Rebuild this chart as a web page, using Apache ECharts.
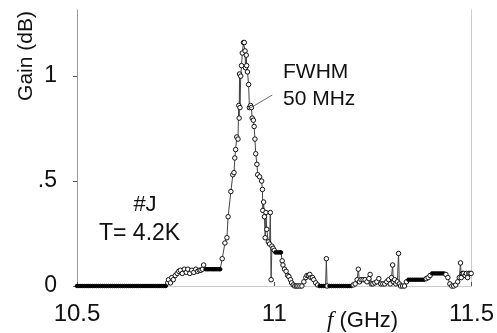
<!DOCTYPE html>
<html>
<head>
<meta charset="utf-8">
<script src="https://cdn.jsdelivr.net/npm/echarts@6/dist/echarts.min.js"></script>
<style>html,body{margin:0;padding:0;background:#fff}#c{width:497px;height:333px}</style>
</head>
<body>
<div id="c"></div>
<script>
// Frequency (GHz) and gain (dB)
const freqLow = [10.500,10.505,10.510,10.515,10.520,10.525,10.530,10.535,10.540,10.545,
  10.550,10.555,10.560,10.565,10.570,10.575,10.580,10.585,10.590,10.595,
  10.600,10.605,10.610,10.615,10.620,10.625,10.630,10.635,10.640,10.645,
  10.650,10.655,10.660,10.665,10.670,10.675,10.680,10.685,10.690,10.695,
  10.700,10.705,10.710,10.715,10.720,10.725];
const gainLow = [0,0,0,0,0,0,0,0,0,0, 0,0,0,0,0,0,0,0,0,0, 0,0,0,0,0,0,0,0,0,0,
  0,0,0,0,0,0,0,0,0,0, 0,0,0,0,0,0];

const freqRise = [10.730,10.732,10.737,10.740,10.744,10.749,10.754,10.758,10.762,10.767,
  10.772,10.777,10.781,10.786,10.791,10.796,10.801,10.806,10.810,10.814,
  10.818,10.821,10.826,10.830,10.833,10.837,10.841,10.845,10.848,10.852,
  10.856,10.860,10.863];
const gainRise = [0.015,0.03,0.015,0.04,0.03,0.05,0.06,0.07,0.075,0.06,
  0.08,0.065,0.08,0.06,0.075,0.065,0.08,0.07,0.075,0.075,
  0.08,0.10,0.08,0.08,0.08,0.08,0.08,0.08,0.08,0.08,
  0.08,0.08,0.08];

const freqPeak = [10.868,10.875,10.880,10.883,10.890,10.895,10.898,10.900,10.902,10.905,
  10.908,10.910,10.911,10.912,10.913,10.915,10.917,10.919,10.922,10.924,
  10.926,10.927,10.929,10.930,10.932,10.935,10.937,10.940,10.942,10.944,
  10.947,10.949,10.951,10.953,10.956,10.958,10.963,10.968,10.970,10.971,
  10.973,10.975,10.977,10.979,10.981,10.985,10.988,10.990,10.992,10.994,
  10.997,11.000,11.003,11.007,11.011,11.015,11.017,11.020,11.022,11.026,
  11.030,11.034,11.037,11.041,11.044,11.048];
const gainPeak = [0.13,0.205,0.23,0.33,0.45,0.53,0.54,0.61,0.65,0.71,
  0.70,0.86,0.80,1.01,0.85,1.00,1.05,1.11,1.16,1.16,
  1.12,1.04,1.10,1.05,1.02,0.96,0.85,0.86,0.85,0.80,
  0.79,0.76,0.70,0.63,0.58,0.53,0.52,0.50,0.46,0.36,
  0.40,0.33,0.23,0.35,0.27,0.21,0.20,0.35,0.03,0.19,
  0.18,0.17,0.16,0.16,0.16,0.16,0.16,0.12,0.10,0.08,
  0.07,0.05,0.045,0.03,0.015,0.005];

const freqHigh = [11.052,11.056,11.060,11.065,11.070,11.075,11.080,11.083,11.087,11.090,
  11.093,11.097,11.100,11.105,11.110,11.115,11.120,11.125,11.130,11.132,
  11.134,11.140,11.145,11.150,11.155,11.160,11.165,11.170,11.175,11.180,
  11.185,11.190,11.195,11.200,11.205,11.210,11.213,11.216,11.220,11.225,
  11.230,11.235,11.240,11.243,11.246,11.250,11.255,11.260,11.265,11.270,
  11.275,11.280,11.285,11.290,11.294,11.297,11.300,11.302,11.305,11.308,
  11.312,11.315,11.317,11.320,11.325,11.330,11.335,11.340,11.345,11.350,
  11.355,11.360,11.365,11.370,11.375,11.380,11.385,11.390,11.395,11.400,
  11.405,11.410,11.415,11.420,11.425,11.430,11.435,11.440,11.445,11.450,
  11.455,11.460,11.465,11.469,11.472,11.474,11.477,11.480,11.484,11.487,
  11.490,11.493,11.496,11.499];
const gainHigh = [0,0,0,0,0,0.02,0.04,0.05,0.05,0.055,
  0.04,0.04,0.03,0.015,0.005,0,0,0,0,0.13,
  0,0,0,0,0,0,0,0,0,0,
  0,0,0,0.005,0.01,0.03,0.08,0.02,0.03,0.03,
  0.03,0.02,0.035,0.055,0.01,0.01,0.015,0.02,0.035,0.01,
  0.01,0.01,0.02,0.03,0.01,0.04,0.10,0.02,0.03,0.01,
  0.02,0.155,0.01,0,0,0,0.02,0.03,0.03,0.03,
  0.03,0.03,0.03,0.03,0.03,0.03,0.035,0.04,0.05,0.06,
  0.06,0.06,0.06,0.06,0.06,0.06,0.055,0.04,0.01,0,
  0,0.005,0.02,0.04,0.11,0.04,0.06,0.06,0.05,0.06,
  0.04,0.06,0.06,0.06];

const xTicks = [10.5, 11, 11.5];
const yTickLabels = {0: '0', 0.5: '.5', 1: '1'};
const fwhmLeader = [[10.932, 0.84], [10.995, 0.91]];
// frequency spans where the markers sit so densely they print as a solid black trace
const denseSpans = [[10.5, 10.726], [10.826, 10.864], [11.003, 11.018], [11.115, 11.131],
  [11.140, 11.196], [11.340, 11.381], [11.400, 11.431]];

const freq = freqLow.concat(freqRise, freqPeak, freqHigh);
const gain = gainLow.concat(gainRise, gainPeak, gainHigh);
const points = freq.map((f, i) => {
  const dense = denseSpans.some(s => f >= s[0] && f <= s[1]);
  return dense
    ? {value: [f, gain[i]], symbolSize: 3.5, itemStyle: {color: '#000', borderColor: '#000'}}
    : {value: [f, gain[i]]};
});

const FONT = '"Liberation Sans", Arial, Helvetica, sans-serif';
const chart = echarts.init(document.getElementById('c'), null, {renderer: 'canvas'});
chart.setOption({
  animation: false,
  backgroundColor: '#fff',
  grid: {left: 77, right: 15, top: 10, bottom: 47},
  xAxis: [{
    type: 'value', min: 10.5, max: 11.5, interval: 0.5,
    axisLine: {onZero: false, lineStyle: {color: '#888', width: 1, type: 'dotted'}},
    axisTick: {show: true, inside: true, length: 4, lineStyle: {color: '#555'}},
    splitLine: {show: false},
    axisLabel: {margin: 16, color: '#111', fontSize: 24, fontFamily: FONT,
      formatter: v => xTicks.indexOf(v) >= 0 ? String(v) : ''}
  }, {
    type: 'value', min: 10.5, max: 11.5, position: 'top',
    axisLine: {show: true, lineStyle: {color: '#ccc', width: 1}},
    axisTick: {show: false}, axisLabel: {show: false}, splitLine: {show: false}
  }],
  yAxis: [{
    type: 'value', min: 0, max: 1.315, interval: 0.5,
    axisLine: {show: true, onZero: false, lineStyle: {color: '#999', width: 1}},
    axisTick: {show: true, length: 4, lineStyle: {color: '#555'}},
    splitLine: {show: false},
    axisLabel: {margin: 20, color: '#111', fontSize: 23, fontFamily: FONT,
      showMaxLabel: false,
      formatter: v => (v in yTickLabels) ? yTickLabels[v] : ''}
  }, {
    type: 'value', min: 0, max: 1.315, position: 'right',
    axisLine: {show: true, lineStyle: {color: '#ccc', width: 1}},
    axisTick: {show: false}, axisLabel: {show: false}, splitLine: {show: false}
  }],
  series: [{
    type: 'line',
    data: points,
    symbol: 'circle', symbolSize: 4.5, showAllSymbol: true,
    lineStyle: {color: '#444', width: 1},
    itemStyle: {color: '#fff', borderColor: '#111', borderWidth: 1},
    markLine: {
      silent: true, symbol: ['none', 'none'], label: {show: false},
      lineStyle: {color: '#444', width: 0.8, type: 'solid'},
      data: [[{coord: fwhmLeader[0]}, {coord: fwhmLeader[1]}]]
    }
  }],
  graphic: [
    {type: 'text', x: 26, y: 56, rotation: Math.PI / 2, style: {text: 'Gain (dB)', font: '21px ' + FONT, fill: '#111', align: 'center', verticalAlign: 'middle'}},
    {type: 'text', x: 327, y: 321, style: {text: '{i|f} (GHz)', font: '22px ' + FONT, fill: '#111', verticalAlign: 'middle',
      rich: {i: {fontStyle: 'italic', fontSize: 23, fontFamily: 'Liberation Serif, serif'}}}},
    {type: 'text', x: 145, y: 205, style: {text: '#J', font: '22px ' + FONT, fill: '#111', align: 'center', verticalAlign: 'middle'}},
    {type: 'text', x: 99, y: 234, style: {text: 'T= 4.2K', font: '23px ' + FONT, fill: '#111', verticalAlign: 'middle'}},
    {type: 'text', x: 283, y: 72, style: {text: 'FWHM', font: '21px ' + FONT, fill: '#111', verticalAlign: 'middle'}},
    {type: 'text', x: 283, y: 99, style: {text: '50 MHz', font: '21px ' + FONT, fill: '#111', verticalAlign: 'middle'}}
  ]
});
</script>
</body>
</html>
